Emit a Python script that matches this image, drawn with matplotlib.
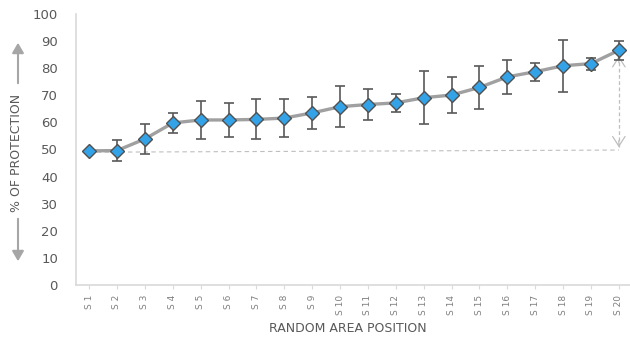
import matplotlib.pyplot as plt
from matplotlib.patches import FancyArrowPatch

# % protection by random area position
positions = ["S 1", "S 2", "S 3", "S 4", "S 5", "S 6", "S 7", "S 8", "S 9", "S 10",
             "S 11", "S 12", "S 13", "S 14", "S 15", "S 16", "S 17", "S 18", "S 19", "S 20"]
protection = [49.5, 49.6, 53.9, 59.8, 60.9, 60.9, 61.1, 61.6, 63.5, 65.8,
              66.6, 67.2, 69.1, 70.1, 72.9, 76.8, 78.7, 80.9, 81.7, 86.6]
error = [0.0, 3.9, 5.6, 3.8, 7.0, 6.4, 7.4, 7.0, 6.0, 7.5,
         5.8, 3.3, 9.8, 6.5, 8.0, 6.3, 3.3, 9.5, 2.2, 3.4]

# dashed baseline and range arrow
base_start = 49.0
base_end = 49.8
arrow_top = 84.5
arrow_bottom = 50.8

x = list(range(len(positions)))
grey_text = "#595959"
axis_col = "#d9d9d9"
light = "#bfbfbf"

fig = plt.figure(figsize=(6.3, 3.38), dpi=100)
ax = fig.add_axes([76 / 630, 53 / 338, 554 / 630, 271 / 338])

ax.plot([x[0], x[-1]], [base_start, base_end], ls=(0, (4, 3)), color=light, lw=0.8, zorder=1)
ax.plot([x[-1], x[-1]], [arrow_bottom, arrow_top], ls=(0, (3, 2)), color=light, lw=0.9, zorder=1)
head = dict(arrowstyle="->,head_length=0.7,head_width=0.45", color=light, lw=0.9,
            shrinkA=0, shrinkB=0)
ax.annotate("", xy=(x[-1], arrow_top), xytext=(x[-1], arrow_top - 2.5), arrowprops=head, zorder=1)
ax.annotate("", xy=(x[-1], arrow_bottom), xytext=(x[-1], arrow_bottom + 2.5), arrowprops=head, zorder=1)

ax.plot(x, protection, color="#a0a0a0", lw=2.4, zorder=2)
ax.errorbar(x, protection, yerr=error, fmt="none", ecolor="#595959",
            elinewidth=1.2, capsize=3.5, capthick=1.2, zorder=3)
ax.plot(x, protection, ls="none", marker="D", markersize=7.5,
        markerfacecolor="#33a2e6", markeredgecolor="#505050", markeredgewidth=1.0, zorder=4)

ax.set_xlim(-0.47, 19.4)
ax.set_ylim(0, 100)
ax.set_yticks(range(0, 101, 10))
ax.set_xticks(x)
ax.set_xticklabels(positions, rotation=90, fontsize=6.5, color="#7f7f7f")
ax.tick_params(axis="y", length=0, labelsize=9.5, labelcolor=grey_text, pad=13)
ax.tick_params(axis="x", length=3, color=axis_col, pad=4)

for side in ["top", "right"]:
    ax.spines[side].set_visible(False)
for side in ["left", "bottom"]:
    ax.spines[side].set_color(axis_col)
    ax.spines[side].set_linewidth(1.2)

fig.text(348 / 630, 1 - 328 / 338, "RANDOM AREA POSITION", ha="center", va="center",
         fontsize=9, color=grey_text)

# y label with arrows
fig.text(17 / 630, 1 - 153 / 338, "% OF PROTECTION", rotation=90, ha="center", va="center",
         fontsize=9, color=grey_text)
fig.patches.append(FancyArrowPatch(
    (18, 338 - 86), (18, 338 - 40), transform=None, figure=fig,
    arrowstyle="-|>,head_length=6,head_width=3.5", color="#a6a6a6", lw=1.5))
fig.patches.append(FancyArrowPatch(
    (18, 338 - 216), (18, 338 - 264), transform=None, figure=fig,
    arrowstyle="-|>,head_length=6,head_width=3.5", color="#a6a6a6", lw=1.5))

fig.savefig("out.png", dpi=100)
